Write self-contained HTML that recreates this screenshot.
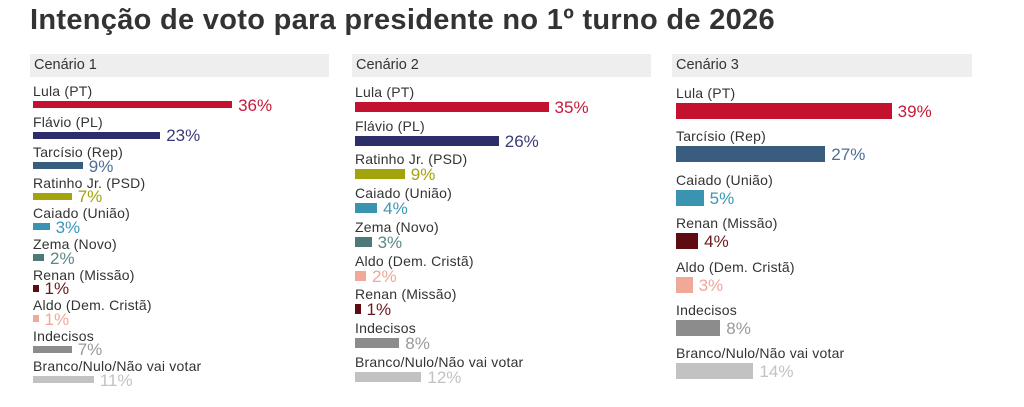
<!DOCTYPE html>
<html><head><meta charset="utf-8"><style>
body{margin:0;width:1024px;height:407px;background:#fff;position:relative;overflow:hidden;font-family:"Liberation Sans",sans-serif;color:#333}
.t{position:absolute;left:30px;top:4px;font-size:29px;font-weight:bold;color:#333;white-space:nowrap;letter-spacing:0.3px}
.h{position:absolute;top:54px;height:23px;background:#eee;font-size:14.5px;line-height:23px;padding-left:4px;box-sizing:border-box;color:#333}
.l{position:absolute;font-size:14px;color:#333;white-space:nowrap;line-height:14px;letter-spacing:0.2px}
.b{position:absolute}
.v{position:absolute;font-size:17px;white-space:nowrap;line-height:16px}
</style></head><body>
<div class="t">Intenção de voto para presidente no 1º turno de 2026</div>
<div class="h" style="left:30px;width:299px">Cenário 1</div>
<div class="h" style="left:352px;width:299px">Cenário 2</div>
<div class="h" style="left:672px;width:300px">Cenário 3</div>
<div id="c"></div>
<script>
var C={lula:["#c4112f","#c8193a"],fla:["#2d2d6b","#3a3a78"],tar:["#395d7e","#4a6f92"],rat:["#a3a30c","#a3a30c"],cai:["#3a93b0","#3a98b8"],zem:["#4d7a78","#5a8886"],ren:["#5e0c12","#6a1a1e"],ald:["#f0a898","#f0a898"],ind:["#8c8c8c","#999"],bra:["#c2c2c2","#c2c2c2"]};
var P=[
 {x:33,T:101,S:30.6,H:7,r:[["Lula (PT)","lula",36],["Flávio (PL)","fla",23],["Tarcísio (Rep)","tar",9],["Ratinho Jr. (PSD)","rat",7],["Caiado (União)","cai",3],["Zema (Novo)","zem",2],["Renan (Missão)","ren",1],["Aldo (Dem. Cristã)","ald",1],["Indecisos","ind",7],["Branco/Nulo/Não vai votar","bra",11]]},
 {x:355,T:102,S:33.7,H:10,r:[["Lula (PT)","lula",35],["Flávio (PL)","fla",26],["Ratinho Jr. (PSD)","rat",9],["Caiado (União)","cai",4],["Zema (Novo)","zem",3],["Aldo (Dem. Cristã)","ald",2],["Renan (Missão)","ren",1],["Indecisos","ind",8],["Branco/Nulo/Não vai votar","bra",12]]},
 {x:676,T:103,S:43.4,H:16,r:[["Lula (PT)","lula",39],["Tarcísio (Rep)","tar",27],["Caiado (União)","cai",5],["Renan (Missão)","ren",4],["Aldo (Dem. Cristã)","ald",3],["Indecisos","ind",8],["Branco/Nulo/Não vai votar","bra",14]]}];
var h="";
P.forEach(function(p){p.r.forEach(function(r,i){
 var top=p.T+i*p.S,w=Math.max(4,r[2]*5.53),c=C[r[1]];
 h+='<div class="l" style="left:'+p.x+'px;top:'+(top-17)+'px">'+r[0]+'</div>';
 h+='<div class="b" style="left:'+p.x+'px;top:'+top+'px;width:'+w+'px;height:'+p.H+'px;background:'+c[0]+'"></div>';
 h+='<div class="v" style="left:'+(p.x+w+6)+'px;top:'+(top+p.H/2-7)+'px;color:'+c[1]+'">'+r[2]+'%</div>';
});});
document.getElementById("c").innerHTML=h;
</script>
</body></html>
